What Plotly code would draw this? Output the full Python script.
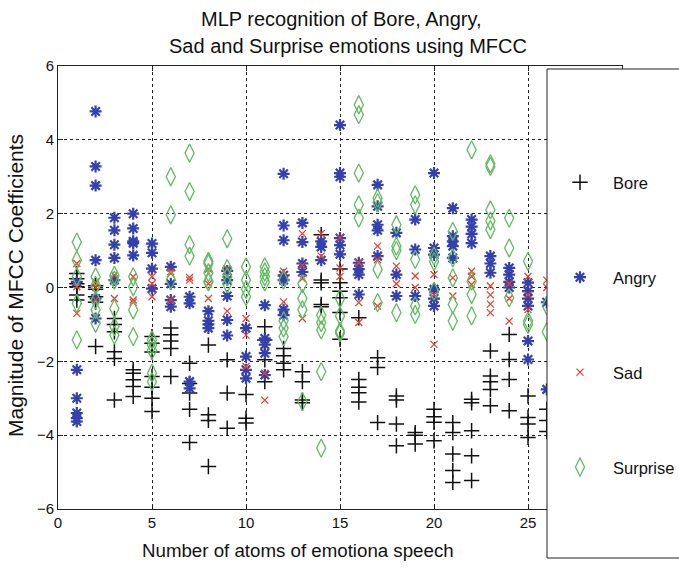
import plotly.graph_objects as go

# MFCC magnitudes per speech atom (atom index 1..26), one list of coefficients per atom
atoms = list(range(1, 27))

bore = [
    [0.38, 0.24, 0.1, 0.02, -0.2, -0.34],
    [0.05, -0.05, -0.25, -0.4, -1.6],
    [-0.84, -1.0, -1.2, -1.74, -1.92, -3.05],
    [-2.23, -2.32, -2.5, -2.68, -2.95],
    [-1.33, -1.51, -1.75, -2.41, -2.7, -3.0, -3.36],
    [-1.1, -1.28, -1.45, -1.65, -2.41],
    [-2.05, -2.6, -2.86, -3.3, -4.2],
    [-1.56, -3.45, -3.6, -4.85],
    [-1.96, -2.86, -3.81],
    [-2.9, -3.54, -3.67],
    [-1.06, -1.42, -1.96, -2.55],
    [-1.65, -1.85, -2.05, -2.23],
    [-2.28, -2.55, -3.05, -3.12],
    [1.43, 0.2, 0.13, -0.46, -0.52],
    [0.5, 0.13, -0.1, -0.28, -0.68, -1.4],
    [-0.82, -2.49, -2.7, -2.85, -3.1],
    [-1.9, -2.17, -3.66],
    [-2.94, -3.05, -3.7, -4.29],
    [-3.93, -4.0, -4.24],
    [-3.3, -3.5, -3.65, -4.15],
    [-3.66, -3.93, -4.51, -4.96, -5.28],
    [-3.03, -3.12, -3.88, -4.56, -5.23],
    [-1.72, -2.4, -2.55, -2.76, -3.2],
    [-1.27, -1.95, -2.49, -3.34],
    [-2.94, -3.52, -3.7, -4.06],
    [-3.3, -3.6, -3.9],
]

angry = [
    [0.15, -2.23, -3.0, -3.4, -3.54, -3.63],
    [4.77, 3.28, 2.76, 0.74, -0.3, -0.84],
    [1.89, 1.55, 1.16, 0.8, 0.2],
    [2.0, 1.6, 1.25, 1.2, 0.87],
    [1.19, 0.94, 0.51, -0.03],
    [0.56, 0.1, -0.34, -0.52],
    [-0.25, -0.43, -2.55, -2.73],
    [-0.64, -0.9, -1.0, -1.1],
    [0.45, 0.2, -0.23, -0.88, -1.3],
    [-1.1, -1.87, -2.23, -2.46],
    [-0.48, -1.38, -1.55, -1.78, -2.37],
    [3.08, 1.68, 1.28, 0.33, 0.2, -0.6, -0.75],
    [1.75, 1.23, 0.65, 0.42],
    [1.25, 1.1, 0.74],
    [4.4, 3.1, 3.0, 1.34, 1.15, 0.9],
    [0.67, 0.5, 0.35, -0.19],
    [2.78, 2.2, 1.7, 1.55, 0.85],
    [1.48, 0.35, -0.23],
    [1.84, 1.03, -0.23],
    [3.1, 1.07, 0.89, -0.05, -0.3, -0.5],
    [2.15, 1.39, 1.25, 1.12, 0.8],
    [1.84, 1.65, 1.45, 1.2],
    [0.85, 0.65, 0.4],
    [0.53, 0.35, 0.15, 0.0],
    [0.13, -0.1, -0.3, -0.5, -1.45, -1.95],
    [-0.4, -2.76],
]

sad = [
    [0.65, 0.02, -0.7],
    [0.15, 0.0, -0.34],
    [0.33, -0.3],
    [0.29, -0.34, -0.4],
    [0.29, 0.1, -0.25],
    [0.43, 0.38, -0.34],
    [0.27, 0.2],
    [0.5, 0.1, -0.3],
    [0.5, -0.64],
    [-0.84, -1.29, -2.14],
    [-2.32, -3.05],
    [0.44, -0.39],
    [1.46, 0.6, 0.24, -0.84],
    [1.46, 0.85],
    [1.35, 0.53, 0.3],
    [0.67, -0.41, -0.95],
    [1.12, 0.75, -0.5],
    [0.58, 0.1],
    [0.31, 0.0],
    [0.35, -0.2, -1.54],
    [0.26, -0.23],
    [0.44, 0.3, 0.08],
    [0.04, -0.2, -0.45, -0.68],
    [0.1, -0.3, -0.91],
    [0.3, -0.2, -0.6],
    [0.2, 0.0],
]

surprise = [
    [1.23, 0.74, 0.29, -0.43, -1.42],
    [0.29, 0.06, -0.34, -0.6, -0.97],
    [0.33, 0.2, -0.57, -1.06, -1.29],
    [0.29, 0.02, -0.61, -1.33],
    [-1.42, -1.56, -1.7, -2.32, -2.55],
    [3.0, 1.97, 0.2],
    [3.64, 2.6, 1.16, 0.85],
    [0.71, 0.65, 0.4, 0.17, 0.15],
    [1.32, 0.51, 0.29, 0.1],
    [0.56, 0.2, -0.05, -0.25],
    [0.56, 0.42, 0.29, 0.15],
    [0.2, -0.9, -1.1, -1.33],
    [0.1, -0.3, -0.6, -3.09],
    [-0.75, -0.95, -1.15, -2.28, -4.35],
    [-0.3, -0.77, -1.18, -1.23],
    [4.95, 4.68, 3.1, 2.24, 1.88],
    [2.42, 2.3, 0.49, -0.41],
    [1.7, 1.12, 1.0, -0.68],
    [2.51, 2.24, 0.76, -0.5, -0.73],
    [0.85, 0.7, -0.1],
    [1.52, 0.8, 0.26, -0.46, -0.91],
    [3.73, 0.17, -0.19, -0.77],
    [3.35, 3.28, 2.1, 1.8, 1.57],
    [1.88, 1.07, -0.28],
    [0.71, -0.91, -1.0],
    [-0.5, -1.2],
]

x_ticks = [0, 5, 10, 15, 20, 25, 30]
y_ticks = [-6, -4, -2, 0, 2, 4, 6]

FONT = "Liberation Sans, Arial, sans-serif"

# plot-area geometry in pixels, used to place the legend box and labels
PL, PR, PT, PB = 58, 622, 66, 509
PW, PH = PR - PL, PB - PT


def px_x(p):
    return (p - PL) / PW


def px_y(p):
    return (PB - p) / PH


def flatten(columns):
    xs, ys = [], []
    for atom, values in zip(atoms, columns):
        for v in values:
            xs.append(atom)
            ys.append(v)
    return xs, ys


series = [
    ("Bore", bore, dict(symbol="cross-thin-open", size=11, color="#111111",
                        line=dict(color="#111111", width=1.5))),
    ("Angry", angry, dict(symbol="asterisk-open", size=10, color="#3340ad",
                          line=dict(color="#3340ad", width=2.2))),
    ("Sad", sad, dict(symbol="x-thin-open", size=7, color="#e5422f",
                      line=dict(color="#e5422f", width=1.3))),
    ("Surprise", surprise, dict(symbol="diamond-tall-open", size=13, color="#62bb62",
                                line=dict(color="#62bb62", width=1.3))),
]

fig = go.Figure()
for name, cols, marker in series:
    xs, ys = flatten(cols)
    fig.add_trace(go.Scatter(x=xs, y=ys, mode="markers", name=name,
                             legendgroup=name, marker=marker))

axis_common = dict(
    showline=True, linecolor="#222222", linewidth=1, mirror="ticks",
    ticks="inside", ticklen=5, tickcolor="#222222",
    showgrid=True, gridcolor="#222222", gridwidth=1, griddash="3px,3px",
    zeroline=False, tickfont=dict(family=FONT, size=15, color="#111111"),
)

fig.update_layout(
    width=679, height=570,
    margin=dict(l=PL, r=679 - PR, t=PT, b=570 - PB, autoexpand=False),
    paper_bgcolor="white", plot_bgcolor="white",
    font=dict(family=FONT, color="#111111"),
    xaxis=dict(range=[0, 30], tickvals=x_ticks, **axis_common),
    yaxis=dict(range=[-6, 6], tickvals=y_ticks, **axis_common),
    showlegend=True,
    legend=dict(
        x=px_x(547), xanchor="left",
        y=px_y(165), yanchor="top",
        bgcolor="rgba(0,0,0,0)", borderwidth=0,
        font=dict(family=FONT, size=16.5, color="#111111"),
        tracegroupgap=70.5, itemwidth=56, traceorder="grouped",
    ),
    shapes=[dict(
        type="rect", xref="paper", yref="paper", layer="above",
        x0=px_x(547), x1=px_x(700),
        y0=px_y(558), y1=px_y(69),
        fillcolor="white", line=dict(color="#222222", width=1),
    )],
    annotations=[
        dict(text="MLP recognition of Bore, Angry,", xref="paper", yref="paper",
             x=px_x(341), y=px_y(19), xanchor="center", yanchor="middle",
             showarrow=False, font=dict(family=FONT, size=20)),
        dict(text="Sad and Surprise emotions using MFCC", xref="paper", yref="paper",
             x=px_x(348), y=px_y(46), xanchor="center", yanchor="middle",
             showarrow=False, font=dict(family=FONT, size=20)),
        dict(text="Number of atoms of emotiona speech", xref="paper", yref="paper",
             x=px_x(298), y=px_y(550), xanchor="center", yanchor="middle",
             showarrow=False, font=dict(family=FONT, size=18.7)),
        dict(text="Magnitude of MFCC Coefficients", xref="paper", yref="paper",
             x=px_x(15), y=px_y(286), xanchor="center", yanchor="middle",
             textangle=-90, showarrow=False, font=dict(family=FONT, size=21)),
    ],
)

fig.write_html("out.html")
